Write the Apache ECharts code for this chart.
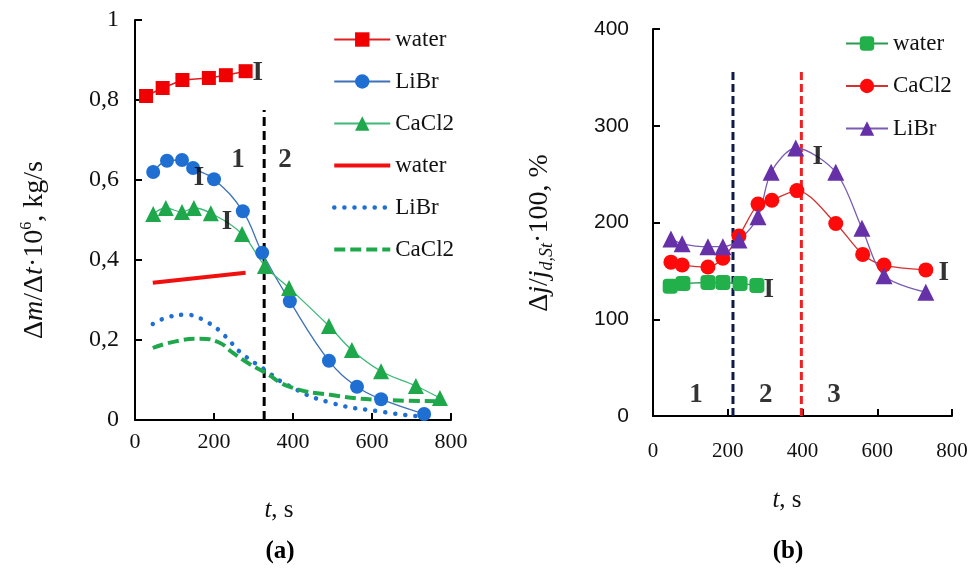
<!DOCTYPE html>
<html>
<head>
<meta charset="utf-8">
<script src="https://cdn.jsdelivr.net/npm/echarts@6/dist/echarts.min.js"></script>
<style>
  html, body { margin: 0; padding: 0; background: #fff; }
  #chart { width: 974px; height: 570px; }
</style>
</head>
<body>
<div id="chart"></div>
<script>
// (a) experiment: [t, s ; value]
var leftWater = [[28, 0.81], [70, 0.83], [120, 0.85], [187, 0.855], [230, 0.862], [280, 0.872]];
var leftLiBr = [[46, 0.62], [81, 0.648], [119, 0.65], [147, 0.63], [200, 0.602], [273, 0.522],
    [322, 0.418], [392, 0.297], [491, 0.148], [562, 0.083], [623, 0.052], [732, 0.015]];
var leftCaCl2 = [[46, 0.515], [78, 0.53], [119, 0.52], [149, 0.53], [192, 0.517], [271, 0.465],
    [329, 0.385], [390, 0.33], [491, 0.235], [549, 0.175], [623, 0.122], [711, 0.085], [772, 0.055]];
// (a) model curves
var modelWater = [[45, 0.343], [280, 0.368]];
var modelLiBr = [[45, 0.24], [80, 0.256], [127, 0.263], [182, 0.245], [228, 0.21], [266, 0.17],
    [327, 0.127], [385, 0.088], [489, 0.045], [628, 0.02], [730, 0.008]];
var modelCaCl2 = [[45, 0.18], [100, 0.196], [165, 0.203], [210, 0.195], [248, 0.168], [290, 0.14],
    [327, 0.12], [392, 0.083], [494, 0.063], [628, 0.05], [780, 0.047]];
var leftDivider = [[327, 0], [327, 0.775]];
var leftNotes = [[311, 0.868, 'I'], [162, 0.605, 'I'], [233, 0.495, 'I'], [261, 0.65, '1'], [380, 0.65, '2']];

// (b) experiment
var rightWater = [[46, 134], [80, 137], [147, 138], [187, 138], [233, 137], [278, 135]];
var rightCaCl2 = [[48, 159], [78, 156], [147, 154], [187, 163], [230, 186], [281, 219],
    [318, 223], [385, 233], [489, 199], [561, 167], [618, 156], [730, 151]];
var rightLiBr = [[48, 183], [78, 178], [147, 175], [187, 175], [230, 182], [281, 206],
    [316, 252], [382, 277], [489, 252], [559, 194], [618, 145], [730, 128]];
var rightDivider1 = [[214, 0], [214, 358]];
var rightDivider2 = [[397, 0], [397, 358]];
var rightNotes = [[441, 268, 'I'], [778, 148, 'I'], [310, 130, 'I'], [115, 22, '1'], [302, 22, '2'], [484, 22, '3']];

var serif = '"Liberation Serif", "Times New Roman", serif';
var sans = '"Liberation Sans", Arial, sans-serif';

var myChart = echarts.init(document.getElementById('chart'));

function axisBase(fontFamily, size, margin) {
    return {
        type: 'value',
        axisLine: { show: true, lineStyle: { color: '#000', width: 2 } },
        axisTick: { show: true, inside: true, length: 7, lineStyle: { color: '#000', width: 2 } },
        splitLine: { show: false },
        axisLabel: { color: '#111', fontFamily: fontFamily, fontSize: size, margin: margin }
    };
}

function noteSeries(idx, data, size) {
    return {
        type: 'scatter', xAxisIndex: idx, yAxisIndex: idx, symbolSize: 0, silent: true, z: 10,
        data: data,
        label: {
            show: true, position: 'inside', color: '#000',
            fontFamily: serif, fontWeight: 'bold', fontSize: size,
            formatter: function (p) { return p.value[2]; }
        }
    };
}

function divider(idx, data, color, dash) {
    return {
        type: 'line', xAxisIndex: idx, yAxisIndex: idx, data: data, symbol: 'none', silent: true,
        lineStyle: { color: color, width: 3, type: dash }, z: 1
    };
}

var waterLine = { color: '#f01010', width: 4 };
var librDots = { color: '#1f6fd2', width: 4.5, type: [0.1, 10], cap: 'round' };
var cacl2Dash = { color: '#1ea84b', width: 4, type: [11, 5] };

// legend entry of a model curve: line only, no marker
function lineOnly(name, style) {
    return { name: name, itemStyle: { opacity: 0 }, lineStyle: style };
}

var xa0 = axisBase(serif, 22, 11);
xa0.gridIndex = 0; xa0.min = 0; xa0.max = 800; xa0.interval = 200;
var ya0 = axisBase(serif, 24, 16);
ya0.gridIndex = 0; ya0.min = 0; ya0.max = 1; ya0.interval = 0.2;
ya0.axisLabel.formatter = function (v) { return String(+v.toFixed(1)).replace('.', ','); };
var xa1 = axisBase(serif, 21, 25);
xa1.gridIndex = 1; xa1.min = 0; xa1.max = 800; xa1.interval = 200;
var ya1 = axisBase(sans, 21, 24);
ya1.gridIndex = 1; ya1.min = 0; ya1.max = 400; ya1.interval = 100;

var labelRich = {
    d: { fontFamily: serif, fontSize: 28, lineHeight: 32, fill: '#111' },
    i: { fontFamily: serif, fontSize: 28, fontStyle: 'italic', lineHeight: 32, fill: '#111' },
    sup: { fontFamily: serif, fontSize: 16, lineHeight: 16, verticalAlign: 'top', fill: '#111' },
    sub: { fontFamily: serif, fontSize: 18, fontStyle: 'italic', lineHeight: 18, verticalAlign: 'bottom', fill: '#111' }
};
var nameRich = {
    d: { fontFamily: serif, fontSize: 25, fill: '#111' },
    i: { fontFamily: serif, fontSize: 25, fontStyle: 'italic', fill: '#111' }
};

option = {
    animation: false,
    backgroundColor: '#fff',
    grid: [
        { left: 135, top: 20, width: 316, height: 400 },
        { left: 653, top: 29, width: 299, height: 387 }
    ],
    xAxis: [xa0, xa1],
    yAxis: [ya0, ya1],
    legend: [
        {
            orient: 'vertical', left: 327, top: 23, itemWidth: 56, itemHeight: 18, itemGap: 19,
            textStyle: { fontFamily: serif, fontSize: 23, color: '#111' },
            data: ['water', 'LiBr', 'CaCl2',
                lineOnly('water ', waterLine), lineOnly('LiBr ', librDots), lineOnly('CaCl2 ', cacl2Dash)]
        },
        {
            orient: 'vertical', left: 840, top: 27, itemWidth: 42, itemHeight: 18, itemGap: 19.5,
            textStyle: { fontFamily: serif, fontSize: 23, color: '#111' },
            data: ['water  ', 'CaCl2  ', 'LiBr  ']
        }
    ],
    graphic: [
        { type: 'text', x: 35, y: 250, rotation: Math.PI / 2,
          style: { text: '{d|Δ}{i|m}{d|/Δ}{i|t}{d|·10}{sup|6}{d|, kg/s}', align: 'center', verticalAlign: 'middle', rich: labelRich } },
        { type: 'text', x: 540, y: 233, rotation: Math.PI / 2,
          style: { text: '{d|Δ}{i|j}{d|/}{i|j}{sub|d,St}{d|·100, %}', align: 'center', verticalAlign: 'middle', rich: labelRich } },
        { type: 'text', x: 279, y: 510,
          style: { text: '{i|t}{d|, s}', align: 'center', verticalAlign: 'middle', rich: nameRich } },
        { type: 'text', x: 787, y: 500,
          style: { text: '{i|t}{d|, s}', align: 'center', verticalAlign: 'middle', rich: nameRich } },
        { type: 'text', x: 280, y: 552,
          style: { text: '(a)', align: 'center', verticalAlign: 'middle', font: 'bold 25px ' + serif, fill: '#000' } },
        { type: 'text', x: 788, y: 552,
          style: { text: '(b)', align: 'center', verticalAlign: 'middle', font: 'bold 25px ' + serif, fill: '#000' } }
    ],
    series: [
        divider(0, leftDivider, '#000', [9, 5]),
        { name: 'water', type: 'line', xAxisIndex: 0, yAxisIndex: 0, data: leftWater,
          symbol: 'rect', symbolSize: 14, itemStyle: { color: '#f00000' },
          lineStyle: { color: '#e02020', width: 1.5 } },
        { name: 'LiBr', type: 'line', xAxisIndex: 0, yAxisIndex: 0, data: leftLiBr, smooth: 0.4,
          symbol: 'circle', symbolSize: 14, itemStyle: { color: '#1f6fd2' },
          lineStyle: { color: '#3d72b8', width: 1.3 } },
        { name: 'CaCl2', type: 'line', xAxisIndex: 0, yAxisIndex: 0, data: leftCaCl2, smooth: 0.4,
          symbol: 'triangle', symbolSize: 16, itemStyle: { color: '#1ea84b' },
          lineStyle: { color: '#3cb878', width: 1.3 } },
        { name: 'water ', type: 'line', xAxisIndex: 0, yAxisIndex: 0, data: modelWater,
          symbol: 'none', itemStyle: { color: '#f01010' }, lineStyle: waterLine },
        { name: 'LiBr ', type: 'line', xAxisIndex: 0, yAxisIndex: 0, data: modelLiBr, smooth: 0.5,
          symbol: 'none', itemStyle: { color: '#1f6fd2' }, lineStyle: librDots },
        { name: 'CaCl2 ', type: 'line', xAxisIndex: 0, yAxisIndex: 0, data: modelCaCl2, smooth: 0.5,
          symbol: 'none', itemStyle: { color: '#1ea84b' }, lineStyle: cacl2Dash },
        noteSeries(0, leftNotes, 27),

        divider(1, rightDivider1, '#0d1a4a', [8, 4]),
        divider(1, rightDivider2, '#f02020', [8, 4]),
        { name: 'water  ', type: 'line', xAxisIndex: 1, yAxisIndex: 1, data: rightWater,
          symbol: 'roundRect', symbolSize: 15, itemStyle: { color: '#22b04a' },
          lineStyle: { color: '#2a9a50', width: 1.3 } },
        { name: 'CaCl2  ', type: 'line', xAxisIndex: 1, yAxisIndex: 1, data: rightCaCl2, smooth: 0.3,
          symbol: 'circle', symbolSize: 15, itemStyle: { color: '#ff0a0a' },
          lineStyle: { color: '#d83030', width: 1.3 } },
        { name: 'LiBr  ', type: 'line', xAxisIndex: 1, yAxisIndex: 1, data: rightLiBr, smooth: 0.3,
          symbol: 'triangle', symbolSize: 17, itemStyle: { color: '#6530a8' },
          lineStyle: { color: '#7a5cb2', width: 1.3 } },
        noteSeries(1, rightNotes, 27)
    ]
};

myChart.setOption(option);
</script>
</body>
</html>
